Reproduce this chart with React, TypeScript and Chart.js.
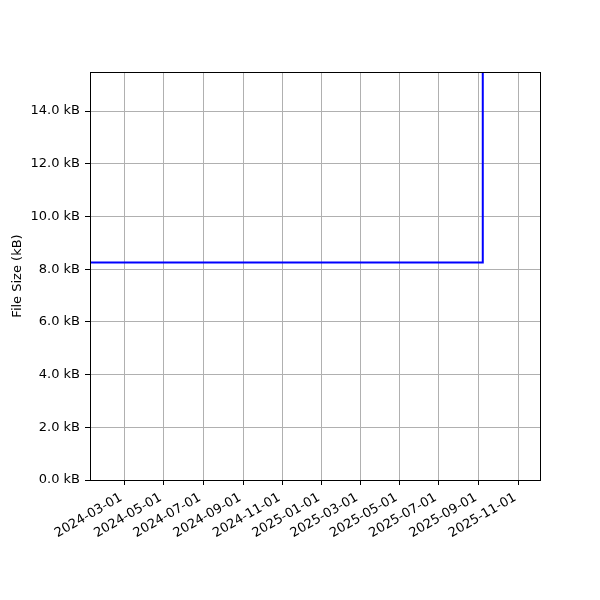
import React, { useEffect, useRef } from "react";
import { Chart, registerables } from "chart.js";

Chart.register(...registerables);

// Data
const pointDates = ["2024-01-08", "2025-09-07", "2025-09-07"];
const fileSizesKB = [8.25, 8.25, 400];

const xTickDates = [
  "2024-03-01", "2024-05-01", "2024-07-01", "2024-09-01", "2024-11-01",
  "2025-01-01", "2025-03-01", "2025-05-01", "2025-07-01", "2025-09-01", "2025-11-01",
];
const yTickValues = [0, 2, 4, 6, 8, 10, 12, 14];
const xRange = ["2024-01-08", "2025-12-04T14:00:00Z"];
const yRange = [0, 15.48];
const yAxisTitle = "File Size (kB)";

const toMs = (s: string) => Date.parse(s.length === 10 ? s + "T00:00:00Z" : s);
const fmtDate = (v: number) => new Date(v).toISOString().slice(0, 10);

const frame = {
  id: "frame",
  afterDraw(chart: any) {
    const { ctx, chartArea } = chart;
    ctx.save();
    ctx.strokeStyle = "#000";
    ctx.lineWidth = 1;
    const l = Math.round(chartArea.left);
    const t = Math.round(chartArea.top);
    const r = Math.round(chartArea.right);
    const b = Math.round(chartArea.bottom);
    ctx.strokeRect(l + 0.5, t + 0.5, r - l, b - t);
    ctx.restore();
  },
};

export default function App() {
  const ref = useRef<HTMLCanvasElement | null>(null);
  useEffect(() => {
    if (!ref.current) return;
    Chart.defaults.font.family = "'DejaVu Sans', sans-serif";
    Chart.defaults.font.size = 13;
    Chart.defaults.color = "#000";
    const data = pointDates.map((d, i) => ({ x: toMs(d), y: fileSizesKB[i] }));
    const chart = new Chart(ref.current, {
      type: "line",
      data: {
        datasets: [
          {
            data,
            borderColor: "#0000ff",
            borderWidth: 2,
            pointRadius: 0,
            tension: 0,
            fill: false,
          },
        ],
      },
      options: {
        animation: false,
        responsive: false,
        events: [],
        layout: { padding: { left: 0, top: 72, right: 60, bottom: 0 } },
        plugins: { legend: { display: false }, tooltip: { enabled: false } },
        scales: {
          x: {
            type: "linear",
            min: toMs(xRange[0]),
            max: toMs(xRange[1]),
            afterBuildTicks: (s: any) => {
              s.ticks = xTickDates.map((d) => ({ value: toMs(d) }));
            },
            afterFit: (s: any) => {
              s.height = 120;
            },
            ticks: {
              callback: (v: any) => fmtDate(Number(v)),
              minRotation: 30,
              maxRotation: 30,
              padding: 5,
              labelOffset: -3,
              autoSkip: false,
              font: { size: 13 },
            },
            grid: { color: "#b0b0b0", tickColor: "#000", tickLength: 5, lineWidth: 1 },
            border: { display: false },
          },
          y: {
            type: "linear",
            min: yRange[0],
            max: yRange[1],
            afterBuildTicks: (s: any) => {
              s.ticks = yTickValues.map((v) => ({ value: v }));
            },
            afterFit: (s: any) => {
              s.width = 90;
            },
            ticks: {
              callback: (v: any) => Number(v).toFixed(1) + " kB",
              padding: 5,
              font: { size: 13 },
            },
            grid: { color: "#b0b0b0", tickColor: "#000", tickLength: 5, lineWidth: 1 },
            border: { display: false },
            title: {
              display: true,
              text: yAxisTitle,
              font: { size: 13 },
              padding: { top: 10, bottom: 0 },
            },
          },
        },
      },
      plugins: [frame],
    });
    return () => chart.destroy();
  }, []);
  return (
    <div style={{ position: "fixed", left: 0, top: 0, width: 600, height: 600, background: "#fff" }}>
      <canvas ref={ref} width={600} height={600} style={{ width: 600, height: 600 }} />
    </div>
  );
}
